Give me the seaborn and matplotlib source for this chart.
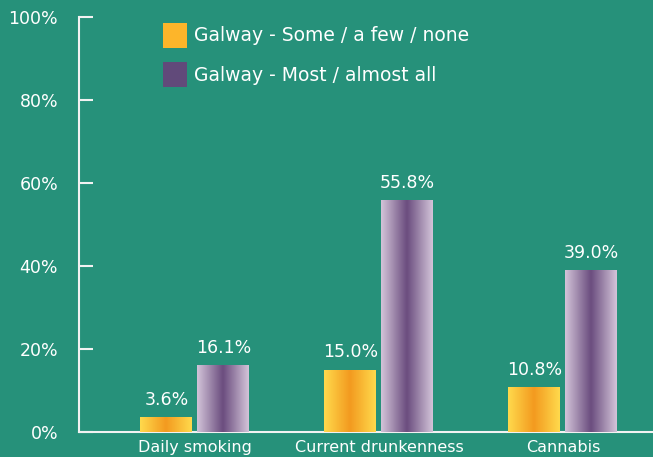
import numpy as np
import pandas as pd
import matplotlib.pyplot as plt
import seaborn as sns
from matplotlib.colors import LinearSegmentedColormap

categories = ['Daily smoking', 'Current drunkenness', 'Cannabis']
series_names = ['Galway - Some / a few / none', 'Galway - Most / almost all']
some_vals = [3.6, 15.0, 10.8]
most_vals = [16.1, 55.8, 39.0]
yticks = [0, 20, 40, 60, 80, 100]

BG = '#26917a'
solid = ['#fdb52a', '#614a7a']
grads = [
    LinearSegmentedColormap.from_list('org', ['#ffd94c', '#f39a1f', '#ffd94c']),
    LinearSegmentedColormap.from_list('pur', ['#d2c3d8', '#6a4c7e', '#d2c3d8']),
]

df = pd.DataFrame({
    'category': categories * 2,
    'group': [series_names[0]] * 3 + [series_names[1]] * 3,
    'value': some_vals + most_vals,
})

sns.set_theme(style='white')
plt.rcParams['font.family'] = ['DejaVu Sans']

fig = plt.figure(figsize=(6.53, 4.57), dpi=100, facecolor=BG)
ax = fig.add_axes([0.121, 0.0547, 0.879, 0.9083])
ax.set_facecolor(BG)

sns.barplot(data=df, x='category', y='value', hue='group', order=categories,
            hue_order=series_names, palette=solid, width=0.62, gap=0.09,
            saturation=1, linewidth=0, ax=ax, zorder=2)

# gradient fill clipped to each bar
grad = np.linspace(0, 1, 64).reshape(1, -1)
for cont, cmap in zip(ax.containers, grads):
    for bar in cont:
        x0, y0 = bar.get_x(), bar.get_y()
        w, h = bar.get_width(), bar.get_height()
        im = ax.imshow(grad, cmap=cmap, aspect='auto', extent=[x0, x0 + w, y0, y0 + h],
                       zorder=3, interpolation='bicubic')
        im.set_clip_path(bar)
    ax.bar_label(cont, fmt='%.1f%%', padding=6, color='white', fontsize=12.5, zorder=4)

ax.set_xlim(-0.63, 2.49)
ax.set_ylim(0, 100)
ax.set_yticks(yticks)
ax.set_yticklabels([f'{t}%' for t in yticks])
ax.set_xlabel('')
ax.set_ylabel('')

for s in ['top', 'right']:
    ax.spines[s].set_visible(False)
for s in ['left', 'bottom']:
    ax.spines[s].set_color('#f2f2f2')
    ax.spines[s].set_linewidth(1.5)

ax.tick_params(axis='y', direction='in', length=10, width=1.5, color='#f2f2f2',
               pad=15, labelsize=12.5, labelcolor='white', left=True)
ax.tick_params(axis='x', length=0, pad=6, labelsize=11.5, labelcolor='white')

leg = ax.legend(loc='upper left', bbox_to_anchor=(0.146, 0.986), frameon=False,
                borderaxespad=0, borderpad=0, handlelength=1.3, handleheight=1.7,
                handletextpad=0.35, labelspacing=0.75, fontsize=13.5, labelcolor='white')
for h in leg.legend_handles:
    h.set_edgecolor('none')

fig.savefig('out.png', dpi=100, facecolor=BG)
